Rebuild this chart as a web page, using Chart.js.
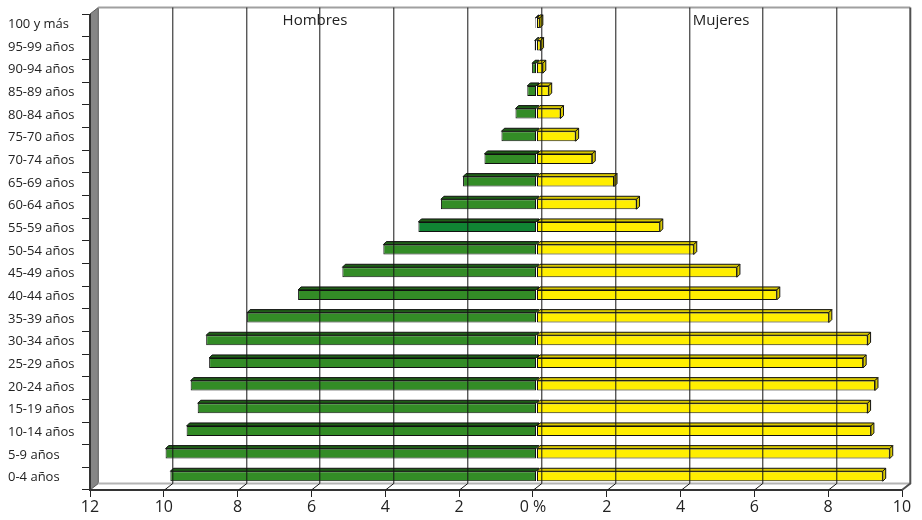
<!DOCTYPE html>
<html>
<head>
<meta charset="utf-8">
<title>Pirámide de población</title>
<script src="https://cdn.jsdelivr.net/npm/chart.js@4.4.1/dist/chart.umd.min.js"></script>
<style>
  html, body { margin: 0; padding: 0; background: #ffffff; }
  #wrap { width: 922px; height: 520px; }
</style>
</head>
<body>
<div id="wrap"><canvas id="pyramid" width="922" height="520"></canvas></div>
<script>
// Age groups, youngest first (the axis is reversed so 0-4 sits at the bottom)
const ageGroups = [
  '0-4 años', '5-9 años', '10-14 años', '15-19 años', '20-24 años',
  '25-29 años', '30-34 años', '35-39 años', '40-44 años', '45-49 años',
  '50-54 años', '55-59 años', '60-64 años', '65-69 años', '70-74 años',
  '75-70 años', '80-84 años', '85-89 años', '90-94 años', '95-99 años',
  '100 y más'
];

// Share of the population (%) in each age group
const hombres = [
  9.92, 10.05, 9.48, 9.18, 9.37,
  8.87, 8.95, 7.84, 6.46, 5.26,
  4.15, 3.20, 2.59, 1.99, 1.41,
  0.95, 0.57, 0.25, 0.12, 0.05,
  0.03
];
const mujeres = [
  9.38, 9.57, 9.06, 8.97, 9.17,
  8.85, 8.97, 7.92, 6.51, 5.43,
  4.26, 3.34, 2.71, 2.10, 1.51,
  1.06, 0.65, 0.33, 0.17, 0.11,
  0.09
];

// Axis ticks (percent, men to the left of zero)
const xTicks = [-12, -10, -8, -6, -4, -2, 0, 2, 4, 6, 8, 10];
const seriesNames = ['Hombres', 'Mujeres'];

// oblique depth of the chart box and of the bars
const DX = 8.3, DY = -6.5;
const BAR_SHIFT_X = 3.6, BAR_SHIFT_Y = -2.4, BAR_D = 3;

const GREEN = '#338c26', GREEN_TOP = '#1f5e17';
const GREEN_ALT = '#108433';
const YELLOW = '#ffee00', YELLOW_TOP = '#d8c800';
const FONT = '"Open Sans", "DejaVu Sans", sans-serif';

const greenColors = ageGroups.map((g) => (g === '55-59 años' ? GREEN_ALT : GREEN));

function line(ctx, pts) {
  ctx.beginPath();
  ctx.moveTo(pts[0][0], pts[0][1]);
  for (let i = 1; i < pts.length; i++) ctx.lineTo(pts[i][0], pts[i][1]);
  ctx.stroke();
}

function poly(ctx, pts, fill, stroke) {
  ctx.beginPath();
  ctx.moveTo(pts[0][0], pts[0][1]);
  for (let i = 1; i < pts.length; i++) ctx.lineTo(pts[i][0], pts[i][1]);
  ctx.closePath();
  ctx.fillStyle = fill;
  ctx.fill();
  ctx.strokeStyle = stroke;
  ctx.lineWidth = 1;
  ctx.stroke();
}

// Walls, floor, back gridlines and the bars' top/side faces
const box3d = {
  id: 'box3d',
  beforeDatasetsDraw(chart) {
    const { ctx, chartArea: a } = chart;
    ctx.save();
    // left wall
    poly(ctx, [[a.left, a.top], [a.left + DX, a.top + DY], [a.left + DX, a.bottom + DY], [a.left, a.bottom]], '#868686', '#5a5a5a');
    // back wall top edge
    ctx.strokeStyle = '#a0a0a0';
    ctx.lineWidth = 2;
    line(ctx, [[a.left + DX, a.top + DY], [a.right + DX, a.top + DY]]);
    // floor back edge
    ctx.strokeStyle = '#b4b4b4';
    line(ctx, [[a.left + DX, a.bottom + DY], [a.right + DX, a.bottom + DY]]);
    // right wall edge
    ctx.strokeStyle = '#505050';
    line(ctx, [[a.right + DX, a.top + DY], [a.right + DX, a.bottom + DY], [a.right, a.bottom]]);
    // front edges
    ctx.strokeStyle = '#333333';
    line(ctx, [[a.left, a.top], [a.left, a.bottom], [a.right, a.bottom]]);
    ctx.restore();

    ctx.save();
    ctx.translate(BAR_SHIFT_X, BAR_SHIFT_Y);
  },
  afterDatasetsDraw(chart) {
    const { ctx, chartArea: a, scales } = chart;
    // top and end faces of each bar
    chart.data.datasets.forEach((ds, di) => {
      const meta = chart.getDatasetMeta(di);
      meta.data.forEach((bar) => {
        const left = Math.min(bar.x, bar.base);
        const right = Math.max(bar.x, bar.base);
        const top = bar.y - bar.height / 2;
        const bottom = bar.y + bar.height / 2;
        const topColor = di === 0 ? GREEN_TOP : YELLOW_TOP;
        poly(ctx, [[left, top], [left + BAR_D, top - BAR_D], [right + BAR_D, top - BAR_D], [right, top]], topColor, '#111111');
        if (di === 1) {
          poly(ctx, [[right, top], [right + BAR_D, top - BAR_D], [right + BAR_D, bottom - BAR_D], [right, bottom]], YELLOW_TOP, '#111111');
        }
      });
    });
    ctx.restore();

    // gridlines on the back wall, folding down across the floor
    const x = scales.x;
    ctx.save();
    ctx.strokeStyle = '#151515';
    ctx.lineWidth = 1;
    xTicks.forEach((v) => {
      if (v === xTicks[0] || v === xTicks[xTicks.length - 1]) return;
      const xf = Math.round(x.getPixelForValue(v)) + 0.5;
      const xb = xf + DX;
      line(ctx, [[xb, a.top + DY], [xb, a.bottom + DY], [xf, a.bottom]]);
    });

    // series captions inside the box
    ctx.fillStyle = '#222222';
    ctx.font = '15px ' + FONT;
    ctx.textAlign = 'center';
    ctx.textBaseline = 'middle';
    ctx.fillText(seriesNames[0], 315, 21);
    ctx.fillText(seriesNames[1], 721, 21);
    ctx.restore();
  }
};

new Chart(document.getElementById('pyramid'), {
  type: 'bar',
  data: {
    labels: ageGroups,
    datasets: [
      {
        label: seriesNames[0],
        data: hombres.map((v) => -v),
        backgroundColor: greenColors,
        borderColor: '#111111',
        borderWidth: 1,
        borderSkipped: false
      },
      {
        label: seriesNames[1],
        data: mujeres,
        backgroundColor: YELLOW,
        borderColor: '#111111',
        borderWidth: 1,
        borderSkipped: false
      }
    ]
  },
  options: {
    indexAxis: 'y',
    responsive: false,
    animation: false,
    devicePixelRatio: 1,
    barPercentage: 0.44,
    categoryPercentage: 1,
    layout: { padding: { left: 8, right: 20, top: 14, bottom: 0 } },
    plugins: {
      legend: { display: false },
      title: { display: false },
      tooltip: { enabled: false }
    },
    scales: {
      x: {
        type: 'linear',
        stacked: true,
        min: -12,
        max: 10,
        afterBuildTicks(scale) {
          scale.ticks = xTicks.map((v) => ({ value: v }));
        },
        afterFit(scale) { scale.height = 30; },
        grid: {
          drawOnChartArea: false,
          drawTicks: true,
          tickLength: 7,
          color: '#222222',
          lineWidth: 1
        },
        border: { display: false },
        ticks: {
          color: '#222222',
          padding: 1,
          font: { family: FONT, size: 16 },
          maxRotation: 0,
          autoSkip: false,
          callback: (v) => (v === 0 ? '0 %' : String(Math.abs(v)))
        }
      },
      y: {
        type: 'category',
        stacked: true,
        reverse: true,
        afterFit(scale) { scale.width = 82; },
        grid: {
          drawOnChartArea: false,
          drawTicks: true,
          tickLength: 8,
          offset: true,
          color: '#222222',
          lineWidth: 1
        },
        border: { display: false },
        ticks: {
          color: '#222222',
          crossAlign: 'far',
          autoSkip: false,
          labelOffset: -1,
          font: { family: FONT, size: 13 }
        }
      }
    }
  },
  plugins: [box3d]
});
</script>
</body>
</html>
